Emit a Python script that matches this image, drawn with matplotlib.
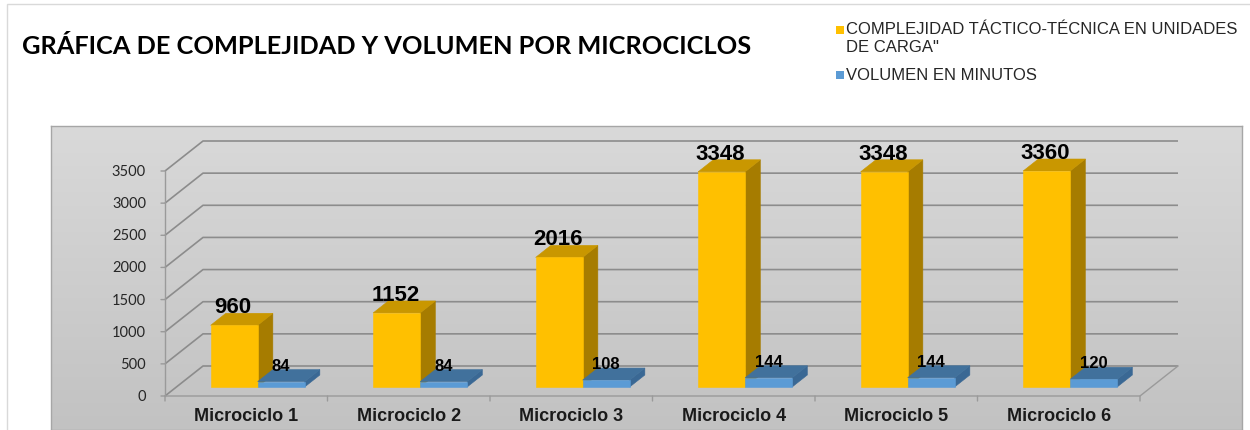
import matplotlib
matplotlib.use('Agg')
import matplotlib.pyplot as plt
import numpy as np
from matplotlib.patches import Polygon, Rectangle
from matplotlib.colors import LinearSegmentedColormap
import matplotlib.transforms as mtransforms

# ---------------- data ----------------
categories = ['Microciclo 1', 'Microciclo 2', 'Microciclo 3',
              'Microciclo 4', 'Microciclo 5', 'Microciclo 6']
complejidad = [960, 1152, 2016, 3348, 3348, 3360]
volumen = [84, 84, 108, 144, 144, 120]
y_ticks = [0, 500, 1000, 1500, 2000, 2500, 3000, 3500]
series_names = ['COMPLEJIDAD TÁCTICO-TÉCNICA EN UNIDADES\nDE CARGA"',
                'VOLUMEN EN MINUTOS']
title = 'GRÁFICA DE COMPLEJIDAD Y VOLUMEN POR MICROCICLOS'

# ---------------- style ----------------
ORANGE = ('#FFC000', '#C99700', '#A67C00')   # front, top, side
BLUE = ('#5B9BD5', '#41719C', '#3A6894')
GRID = '#8c8c8c'

W, H = 1250, 431
fig = plt.figure(figsize=(W / 100, H / 100), dpi=100)
fig.patch.set_facecolor('white')

def fx(px):
    return px / W

def fy(py):
    return 1 - py / H

# outer chart border
fig.patches.append(Rectangle((fx(7), fy(H + 5)), fx(W + 10), fy(5) - fy(H + 5),
                             transform=fig.transFigure, fill=False,
                             edgecolor='#d9d9d9', linewidth=1.0))

# plot area (pixels)
ax_l, ax_r, ax_t, ax_b = 51, 1242, 127, 431
ax = fig.add_axes([fx(ax_l), fy(ax_b), (ax_r - ax_l) / W, (ax_b - ax_t) / H])

n = len(categories)
ymax = y_ticks[-1]
front_l, front_r = 165, 1140
front_0, front_top = 397, 172
px_x = (front_r - front_l) / n
px_y = (front_0 - front_top) / ymax
xlim = (-(front_l - ax_l) / px_x, n + (ax_r - front_r) / px_x)
ylim = (-(ax_b - front_0) / px_y, ymax + (front_top - ax_t) / px_y)
ax.set_xlim(*xlim)
ax.set_ylim(*ylim)
ax.set_xticks([])
ax.set_yticks([])
for s in ax.spines.values():
    s.set_color('#a6a6a6')
    s.set_linewidth(1.0)

DX = 38 / px_x
DY = 30 / px_y

def P(x, y, d):
    return (x + d * DX, y + d * DY)

# gradient background
cmap = LinearSegmentedColormap.from_list('bg', ['#d9d9d9', '#c2c2c2'])
ax.imshow(np.linspace(0, 1, 256).reshape(-1, 1), cmap=cmap,
          extent=[xlim[0], xlim[1], ylim[0], ylim[1]], aspect='auto',
          origin='upper', zorder=0)

lw = 1.2
# gridlines: left wall diagonals + back wall horizontals
for v in y_ticks:
    a, b, c = P(0, v, 0), P(0, v, 1), P(n, v, 1)
    ax.plot([a[0], b[0], c[0]], [a[1], b[1], c[1]], color=GRID, lw=lw,
            zorder=1, solid_capstyle='butt')
# floor front edge and right diagonal
a, b, c = P(0, 0, 0), P(n, 0, 0), P(n, 0, 1)
ax.plot([a[0], b[0], c[0]], [a[1], b[1], c[1]], color='#9a9a9a', lw=1.0, zorder=1)
# vertical value axis
ax.plot([0, 0], [0, ymax], color='#9a9a9a', lw=1.0, zorder=1)

# tick marks & labels (offset in pixels through transforms)
def off(dx, dy):
    return ax.transData + mtransforms.ScaledTranslation(dx / 100, dy / 100,
                                                        fig.dpi_scale_trans)

for v in y_ticks:
    ax.annotate('', xy=(0, v), xytext=(-4, 0), textcoords='offset pixels',
                arrowprops=dict(arrowstyle='-', color='#9a9a9a', lw=1.0,
                                shrinkA=0, shrinkB=0))
    ax.text(0, v, f'{v}', transform=off(-19, 0), ha='right', va='center',
            fontsize=10.5, family='Lato', color='#262626')

for i in range(n + 1):
    ax.annotate('', xy=(i, 0), xytext=(0, -5), textcoords='offset pixels',
                arrowprops=dict(arrowstyle='-', color='#9a9a9a', lw=1.0,
                                shrinkA=0, shrinkB=0))
for i, cat in enumerate(categories):
    ax.text(i + 0.5, 0, cat, transform=off(0, -20), ha='center', va='center',
            fontsize=13, fontweight='bold', family='Liberation Sans',
            color='#1a1a1a')

# bars
w = 47 / px_x
d0, d1 = 0.3, 0.7

def draw_bar(x0, x1, h, cols, z):
    front = [P(x0, 0, d0), P(x1, 0, d0), P(x1, h, d0), P(x0, h, d0)]
    top = [P(x0, h, d0), P(x1, h, d0), P(x1, h, d1), P(x0, h, d1)]
    side = [P(x1, 0, d0), P(x1, 0, d1), P(x1, h, d1), P(x1, h, d0)]
    for poly, col in ((side, cols[2]), (top, cols[1]), (front, cols[0])):
        ax.add_patch(Polygon(poly, closed=True, facecolor=col,
                             edgecolor=col, lw=0.4, zorder=z))

for i in range(n):
    c = i + 0.5
    draw_bar(c - w, c, complejidad[i], ORANGE, 3)
    draw_bar(c, c + w, volumen[i], BLUE, 4)
    # labels
    xo = P(c - w / 2, 0, d0)[0]
    yo = P(0, complejidad[i], d1)[1]
    ax.text(xo, yo, f'{complejidad[i]}', transform=off(-1, 1), ha='center',
            va='baseline', fontsize=16, fontweight='bold',
            family='Liberation Sans', color='black', zorder=6)
    xb = P(c + w / 2, 0, d0)[0]
    yb = P(0, volumen[i], d1)[1]
    ax.text(xb, yb, f'{volumen[i]}', transform=off(0, 0), ha='center',
            va='baseline', fontsize=12, fontweight='bold',
            family='Liberation Sans', color='black', zorder=6)

# title
fig.text(fx(22), fy(46), title, ha='left', va='center', fontsize=18.3,
         fontweight='bold', family='Lato', color='black')

# legend (manual)
leg_items = [(series_names[0], ORANGE[0], 31, 38), (series_names[1], BLUE[0], 76, 76)]
for label, col, my, ty in leg_items:
    fig.patches.append(Rectangle((fx(836), fy(my + 4)), fx(8), fy(my - 4) - fy(my + 4),
                                 transform=fig.transFigure, facecolor=col,
                                 edgecolor='none'))
    fig.text(fx(846), fy(ty), label, ha='left', va='center', fontsize=12,
             family='Liberation Sans', color='#262626', linespacing=1.25)

fig.savefig('out.png', dpi=100)
